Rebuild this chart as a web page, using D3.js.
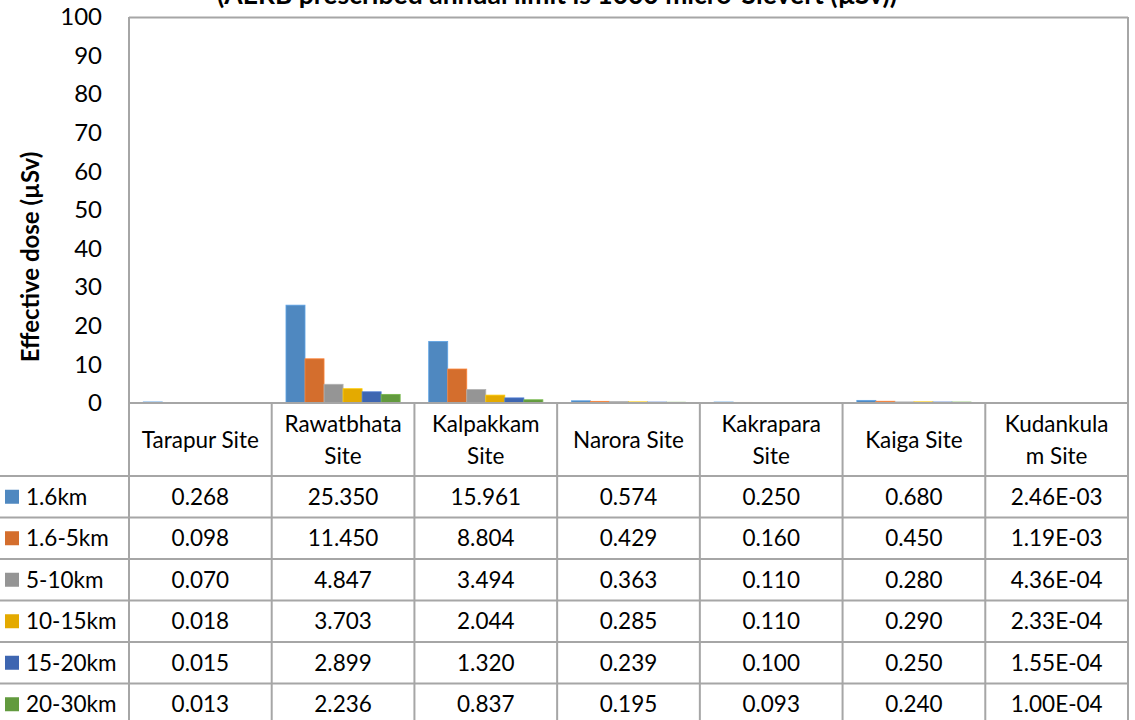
<!DOCTYPE html>
<html>
<head>
<meta charset="utf-8">
<script src="https://cdn.jsdelivr.net/npm/d3@7"></script>
<style>
  body { margin: 0; background: #fff; }
  svg { display: block; font-family: Lato, 'Open Sans', sans-serif; }
</style>
</head>
<body>
<svg id="chart" width="1135" height="720"></svg>
<script>
const sites = [
  ['Tarapur Site'],
  ['Rawatbhata', 'Site'],
  ['Kalpakkam', 'Site'],
  ['Narora Site'],
  ['Kakrapara', 'Site'],
  ['Kaiga Site'],
  ['Kudankula', 'm Site']
];
const series = ['1.6km', '1.6-5km', '5-10km', '10-15km', '15-20km', '20-30km'];
const colors = ['#4f88c0', '#d46e2d', '#959595', '#e4aa00', '#3e66b1', '#629a3e'];

// one array per distance band, values per site
const d16 = [0.268, 25.350, 15.961, 0.574, 0.250, 0.680, 2.46e-3];
const d16_5 = [0.098, 11.450, 8.804, 0.429, 0.160, 0.450, 1.19e-3];
const d5_10 = [0.070, 4.847, 3.494, 0.363, 0.110, 0.280, 4.36e-4];
const d10_15 = [0.018, 3.703, 2.044, 0.285, 0.110, 0.290, 2.33e-4];
const d15_20 = [0.015, 2.899, 1.320, 0.239, 0.100, 0.250, 1.55e-4];
const d20_30 = [0.013, 2.236, 0.837, 0.195, 0.093, 0.240, 1.00e-4];
const values = [d16, d16_5, d5_10, d10_15, d15_20, d20_30];
const labels = [
  ['0.268', '25.350', '15.961', '0.574', '0.250', '0.680', '2.46E-03'],
  ['0.098', '11.450', '8.804', '0.429', '0.160', '0.450', '1.19E-03'],
  ['0.070', '4.847', '3.494', '0.363', '0.110', '0.280', '4.36E-04'],
  ['0.018', '3.703', '2.044', '0.285', '0.110', '0.290', '2.33E-04'],
  ['0.015', '2.899', '1.320', '0.239', '0.100', '0.250', '1.55E-04'],
  ['0.013', '2.236', '0.837', '0.195', '0.093', '0.240', '1.00E-04']
];
const yTicks = d3.range(0, 101, 10);

const svg = d3.select('#chart');
const plotL = 129, plotR = 1128, plotT = 17, base = 403;
const rowH = 41.5, headH = 73;
const grid = '#a6a6a6';
const fs = 22.5;

const x = d3.scaleBand().domain(d3.range(sites.length)).range([plotL, plotR]);
const xs = d3.scaleBand().domain(d3.range(series.length))
  .range([0, x.bandwidth()]).paddingOuter(0.75).paddingInner(0);
const y = d3.scaleLinear().domain([0, 100]).range([base, plotT]);

// title (cut off at the top like the source)
svg.append('text')
  .attr('x', 557).attr('y', 4)
  .attr('text-anchor', 'middle')
  .attr('font-size', 26).attr('font-weight', 'bold')
  .attr('textLength', 680).attr('lengthAdjust', 'spacingAndGlyphs')
  .text('(AERB prescribed annual limit is 1000 micro-Sievert (µSv))');

// plot frame
svg.append('line').attr('x1', plotL).attr('x2', plotR).attr('y1', plotT + 0.5).attr('y2', plotT + 0.5)
  .attr('stroke', grid).attr('stroke-width', 2);
svg.append('line').attr('x1', plotR).attr('x2', plotR).attr('y1', plotT).attr('y2', 720)
  .attr('stroke', grid).attr('stroke-width', 2);

// bars
const groups = svg.append('g').selectAll('g').data(values).join('g')
  .attr('fill', (d, i) => colors[i]);
groups.each(function (vals, si) {
  d3.select(this).selectAll('rect').data(vals).join('rect')
    .attr('x', (v, i) => x(i) + xs(si))
    .attr('width', xs.bandwidth())
    .attr('y', v => y(v))
    .attr('height', v => base - y(v))
    .attr('stroke', d3.color(colors[si]).brighter(0.5))
    .attr('stroke-width', 0.8);
});

// y axis
const yAxis = svg.append('g')
  .attr('transform', `translate(${plotL},0)`)
  .call(d3.axisLeft(y).tickValues(yTicks).tickSize(0).tickPadding(27));
yAxis.select('.domain').remove();
yAxis.selectAll('text').attr('font-size', 24).attr('fill', '#000')
  .attr('font-family', 'Lato, sans-serif');
svg.append('line').attr('x1', plotL).attr('x2', plotL).attr('y1', plotT).attr('y2', 720)
  .attr('stroke', grid).attr('stroke-width', 2);

svg.append('text')
  .attr('transform', 'translate(39,257) rotate(-90)')
  .attr('text-anchor', 'middle')
  .attr('font-size', 24).attr('font-weight', 'bold')
  .text('Effective dose (µSv)');

// data table
const table = svg.append('g');
table.append('line').attr('x1', plotL).attr('x2', plotR).attr('y1', base).attr('y2', base)
  .attr('stroke', grid).attr('stroke-width', 2);
series.forEach((s, i) => {
  const yy = base + headH + i * rowH;
  table.append('line').attr('x1', 0).attr('x2', plotR).attr('y1', yy).attr('y2', yy)
    .attr('stroke', grid).attr('stroke-width', 2);
});
sites.forEach((s, i) => {
  table.append('line').attr('x1', x(i) + x.bandwidth()).attr('x2', x(i) + x.bandwidth())
    .attr('y1', base).attr('y2', 720)
    .attr('stroke', grid).attr('stroke-width', 2);
  const t = table.append('text')
    .attr('text-anchor', 'middle').attr('font-size', fs)
    .attr('x', x(i) + x.bandwidth() / 2);
  if (s.length === 1) {
    t.attr('y', base + headH / 2 + 8).text(s[0]);
  } else {
    s.forEach((line, k) => {
      t.append('tspan').attr('x', x(i) + x.bandwidth() / 2)
        .attr('y', base + 29 + k * 32).text(line);
    });
  }
});
series.forEach((s, i) => {
  const cy = base + headH + i * rowH + rowH / 2;
  table.append('rect').attr('x', 5).attr('y', cy - 7).attr('width', 14).attr('height', 14)
    .attr('fill', colors[i]);
  table.append('text').attr('x', 26).attr('y', cy + 8).attr('font-size', fs).text(s);
  labels[i].forEach((lab, j) => {
    table.append('text').attr('x', x(j) + x.bandwidth() / 2).attr('y', cy + 8)
      .attr('text-anchor', 'middle').attr('font-size', fs).text(lab);
  });
});
</script>
</body>
</html>
